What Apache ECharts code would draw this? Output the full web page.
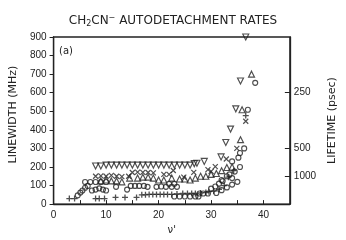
<!DOCTYPE html>
<html><head><meta charset="utf-8">
<script src="https://cdn.jsdelivr.net/npm/echarts@6/dist/echarts.min.js"></script>
<style>html,body{margin:0;padding:0;background:#fff}#c{width:346px;height:240px}</style>
</head><body><div id="c"></div>
<script>
// ∇ (downward triangles)
const downX = [8,9,10,11,12,13,14,15,16,17,18,19,20,21,22,23,24,25,26,26.8,27.3,28.7,31.9,32.8,33.7,34.7,35.6,36.6];
const downY = [205,205,210,210,210,210,210,210,210,210,210,210,210,210,210,210,210,210,210,218,220,230,254,332,404,513,663,900];
// × (crosses)
const crossX = [8,9,10,11,12,13,14.3,15,16,17,18,19,21,22,22.8,24.8,26.7,29.4,30,30.8,32.9,34.9,36.6];
const crossY = [150,152,150,155,150,148,150,170,172,171,170,168,160,160,181,145,171,186,176,202,243,300,446];
// Δ (triangles)
const triX = [9,10,11,12,13,14.5,16,17,18,19,20,21,22.5,24,25,26,27,28,29,30,31,32,33,34,35.6,35.9,37.7];
const triY = [125,130,125,125,120,140,140,145,145,140,130,130,140,135,135,130,140,150,150,160,165,180,197,200,347,508,700];
// ○ (circles)
const circX = [4.6,5.1,5.5,6,6.5,6,7,8,9,10,7.3,8,8.7,9.4,10,11.9,14,14.7,15.5,16.3,17.2,17.9,19.6,20.5,21.4,22,23,22.5,23.5,23,24,25,26,27,27.6,27.8,28.5,29.4,30,30.8,31.5,32.2,31,32,33,34,32,33,34,35,33.5,34.5,35.5,34,35.2,35.5,36.3,37,38.4];
const circY = [47,62,73,88,98,119,119,119,119,119,73,78,85,78,73,93,78,98,98,98,98,93,93,95,93,109,109,93,93,41,41,41,41,41,41,57,57,57,83,95,110,124,60,75,90,105,130,150,140,120,160,175,200,230,250,275,300,508,653];
// + (plus)
const plusX = [3,4,8,8.7,9.7,11.8,13.6,15.8,16.8,17.5,18.2,18.9,19.6,20.3,21,21.7,22.5,23.5,24.6,25.5,26.3,27,28,29,29.6,30.5,31.5,32.5,33.3,34.3,36.6];
const plusY = [30,30,30,30,30,36,36,36,50,50,52,52,52,52,52,52,52,55,57,57,57,57,60,62,67,70,80,100,145,180,477];
// axis ticks
const xLabels = [0,10,20,30,40];
const yLabels = [0,100,200,300,400,500,600,700,800,900];
const lifetimeLabels = ['250','500','1000'];
const lifetimeMHz = [600,300,150];

const zip = (a,b) => a.map((v,i)=>[v,b[i]]);
const ink = '#222';
const font = 'DejaVu Sans';
const baseItem = {color:'rgba(0,0,0,0)', borderColor:ink, borderWidth:1.15};

const chart = echarts.init(document.getElementById('c'), null, {renderer:'canvas'});
chart.setOption({
  animation:false,
  backgroundColor:'#fff',
  title:{
    text:'CH{sub|2}CN{sup|−} AUTODETACHMENT RATES',
    left:'center', top:8,
    textStyle:{
      fontFamily:font, fontSize:12, color:ink, fontWeight:'normal',
      rich:{
        sub:{fontFamily:font,fontSize:8,color:ink,padding:[7,0,0,0]},
        sup:{fontFamily:font,fontSize:8,color:ink,padding:[0,0,6,0]}
      }
    }
  },
  graphic:[{type:'text', left:59, top:46, style:{text:'(a)', font:'10px DejaVu Sans', fill:ink}}],
  grid:{left:45, right:48, top:37, bottom:29, show:true, borderColor:ink, borderWidth:1.3},
  xAxis:{
    type:'value', min:0, max:45, interval:5,
    name:"ν'", nameLocation:'middle', nameGap:20,
    nameTextStyle:{fontFamily:font, fontSize:10, color:ink},
    axisLine:{lineStyle:{color:ink,width:1.3}},
    axisTick:{inside:true, length:4, lineStyle:{color:ink}},
    axisLabel:{fontFamily:'Liberation Sans', fontSize:10, color:ink, margin:6,
      formatter:v => xLabels.includes(v) ? String(v) : ''},
    splitLine:{show:false}
  },
  yAxis:[{
    type:'value', min:0, max:900, interval:100,
    name:'LINEWIDTH (MHz)', nameLocation:'middle', nameGap:29, nameRotate:90,
    nameTextStyle:{fontFamily:font, fontSize:11, color:ink, padding:[0,0,0,12]},
    axisLine:{show:true, lineStyle:{color:ink,width:1.3}},
    axisTick:{show:true, length:4, lineStyle:{color:ink}},
    axisLabel:{fontFamily:'Liberation Sans', fontSize:10, color:ink, margin:7,
      formatter:v => yLabels.includes(v) ? String(v) : ''},
    splitLine:{show:false}
  },{
    type:'value', min:0, max:900, position:'right',
    name:'LIFETIME (psec)', nameLocation:'middle', nameGap:32, nameRotate:90,
    nameTextStyle:{fontFamily:font, fontSize:11, color:ink, padding:[0,0,0,0]},
    axisLine:{show:true, lineStyle:{color:ink,width:1.3}},
    axisTick:{show:true, inside:true, length:5, customValues:lifetimeMHz, lineStyle:{color:ink}},
    axisLabel:{fontFamily:'Liberation Sans', fontSize:10, color:ink, margin:4,
      customValues:lifetimeMHz,
      formatter:v => { const i = lifetimeMHz.indexOf(v); return i >= 0 ? lifetimeLabels[i] : ''; }},
    splitLine:{show:false}
  }],
  series:[
    {type:'scatter', name:'down', data:zip(downX,downY), symbol:'triangle', symbolRotate:180, symbolSize:6, itemStyle:baseItem},
    {type:'scatter', name:'cross', data:zip(crossX,crossY), symbol:'path://M0,0L10,10M10,0L0,10', symbolSize:5, itemStyle:{...baseItem, borderWidth:1.2}},
    {type:'scatter', name:'tri', data:zip(triX,triY), symbol:'triangle', symbolSize:6, itemStyle:baseItem},
    {type:'scatter', name:'circ', data:zip(circX,circY), symbol:'circle', symbolSize:5, itemStyle:baseItem},
    {type:'scatter', name:'plus', data:zip(plusX,plusY), symbol:'path://M0,5L10,5M5,0L5,10', symbolSize:6, itemStyle:{...baseItem, borderWidth:1.3}}
  ]
});
</script></body></html>
